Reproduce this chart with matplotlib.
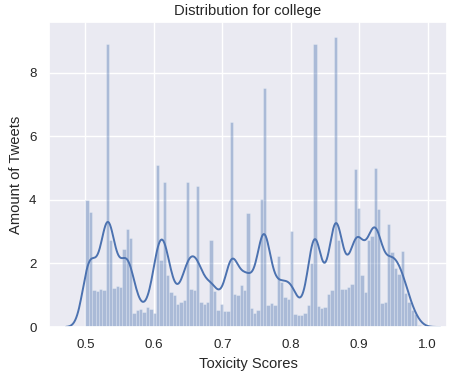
import numpy as np
import matplotlib
matplotlib.use("Agg")
import matplotlib.pyplot as plt
import seaborn as sns

# Histogram bin range and density heights (density-normalised counts)
bin_start = 0.5
bin_stop = 0.99
heights = [
    4.00, 3.63, 1.18, 1.13, 1.21, 1.18, 8.92, 2.74, 1.23, 1.28,
    1.26, 2.46, 3.10, 2.79, 0.45, 0.55, 0.58, 0.47, 0.63, 0.58,
    0.45, 5.10, 2.10, 4.55, 1.63, 1.10, 1.00, 0.72, 0.80, 0.84,
    4.55, 1.21, 1.18, 4.44, 0.79, 0.72, 0.79, 2.74, 1.14, 0.53,
    0.72, 0.50, 0.50, 6.46, 1.03, 1.00, 1.32, 1.16, 3.60, 0.61,
    0.44, 0.55, 4.03, 7.53, 0.68, 0.74, 0.68, 2.25, 1.42, 0.95,
    0.89, 3.03, 0.40, 0.37, 0.37, 0.45, 0.68, 2.00, 8.92, 0.66,
    0.61, 0.63, 1.05, 1.18, 9.13, 2.74, 1.21, 1.21, 1.26, 1.35,
    4.97, 3.74, 1.63, 1.10, 2.74, 2.86, 5.02, 3.72, 0.76, 0.79,
    3.24, 2.37, 1.87, 1.66, 2.39, 1.07, 0.78, 0.55, 0.42, 0.06,
]
x_ticks = [0.5, 0.6, 0.7, 0.8, 0.9, 1.0]
y_ticks = [0, 2, 4, 6, 8]
kde_bandwidth = 0.0095

sns.set_theme(style="darkgrid")
plt.rcParams["font.family"] = ["Liberation Sans", "DejaVu Sans"]

heights = np.asarray(heights)
edges = np.linspace(bin_start, bin_stop, len(heights) + 1)
centers = 0.5 * (edges[:-1] + edges[1:])
widths = np.diff(edges)

fig = plt.figure(figsize=(4.49, 3.74), dpi=100)
ax = fig.add_axes([49 / 449, 1 - 327 / 374, (447 - 49) / 449, (327 - 22) / 374])

ax.hist(centers, bins=edges, weights=heights, color="C0", alpha=0.4,
        edgecolor="white", linewidth=0.4)

# Gaussian kernel density estimate over the binned distribution
w = heights * widths
w = w / w.sum()
grid = np.linspace(bin_start - 3 * kde_bandwidth, bin_stop + 3 * kde_bandwidth, 400)
dens = (w[None, :] * np.exp(-0.5 * ((grid[:, None] - centers[None, :]) / kde_bandwidth) ** 2)).sum(axis=1)
dens /= kde_bandwidth * np.sqrt(2 * np.pi)
ax.plot(grid, dens, color="C0", linewidth=1.4)

ax.set_xlim(0.4467, 1.0285)
ax.set_ylim(0, 9.6)
ax.set_xticks(x_ticks)
ax.set_xticklabels([f"{t:.1f}" for t in x_ticks])
ax.set_yticks(y_ticks)
ax.tick_params(labelsize=9.6, pad=3)
ax.set_title("Distribution for college", fontsize=10.6, pad=5)
ax.set_xlabel("Toxicity Scores", fontsize=10.6)
ax.set_ylabel("Amount of Tweets", fontsize=10.6)

fig.savefig("out.png", dpi=100)
